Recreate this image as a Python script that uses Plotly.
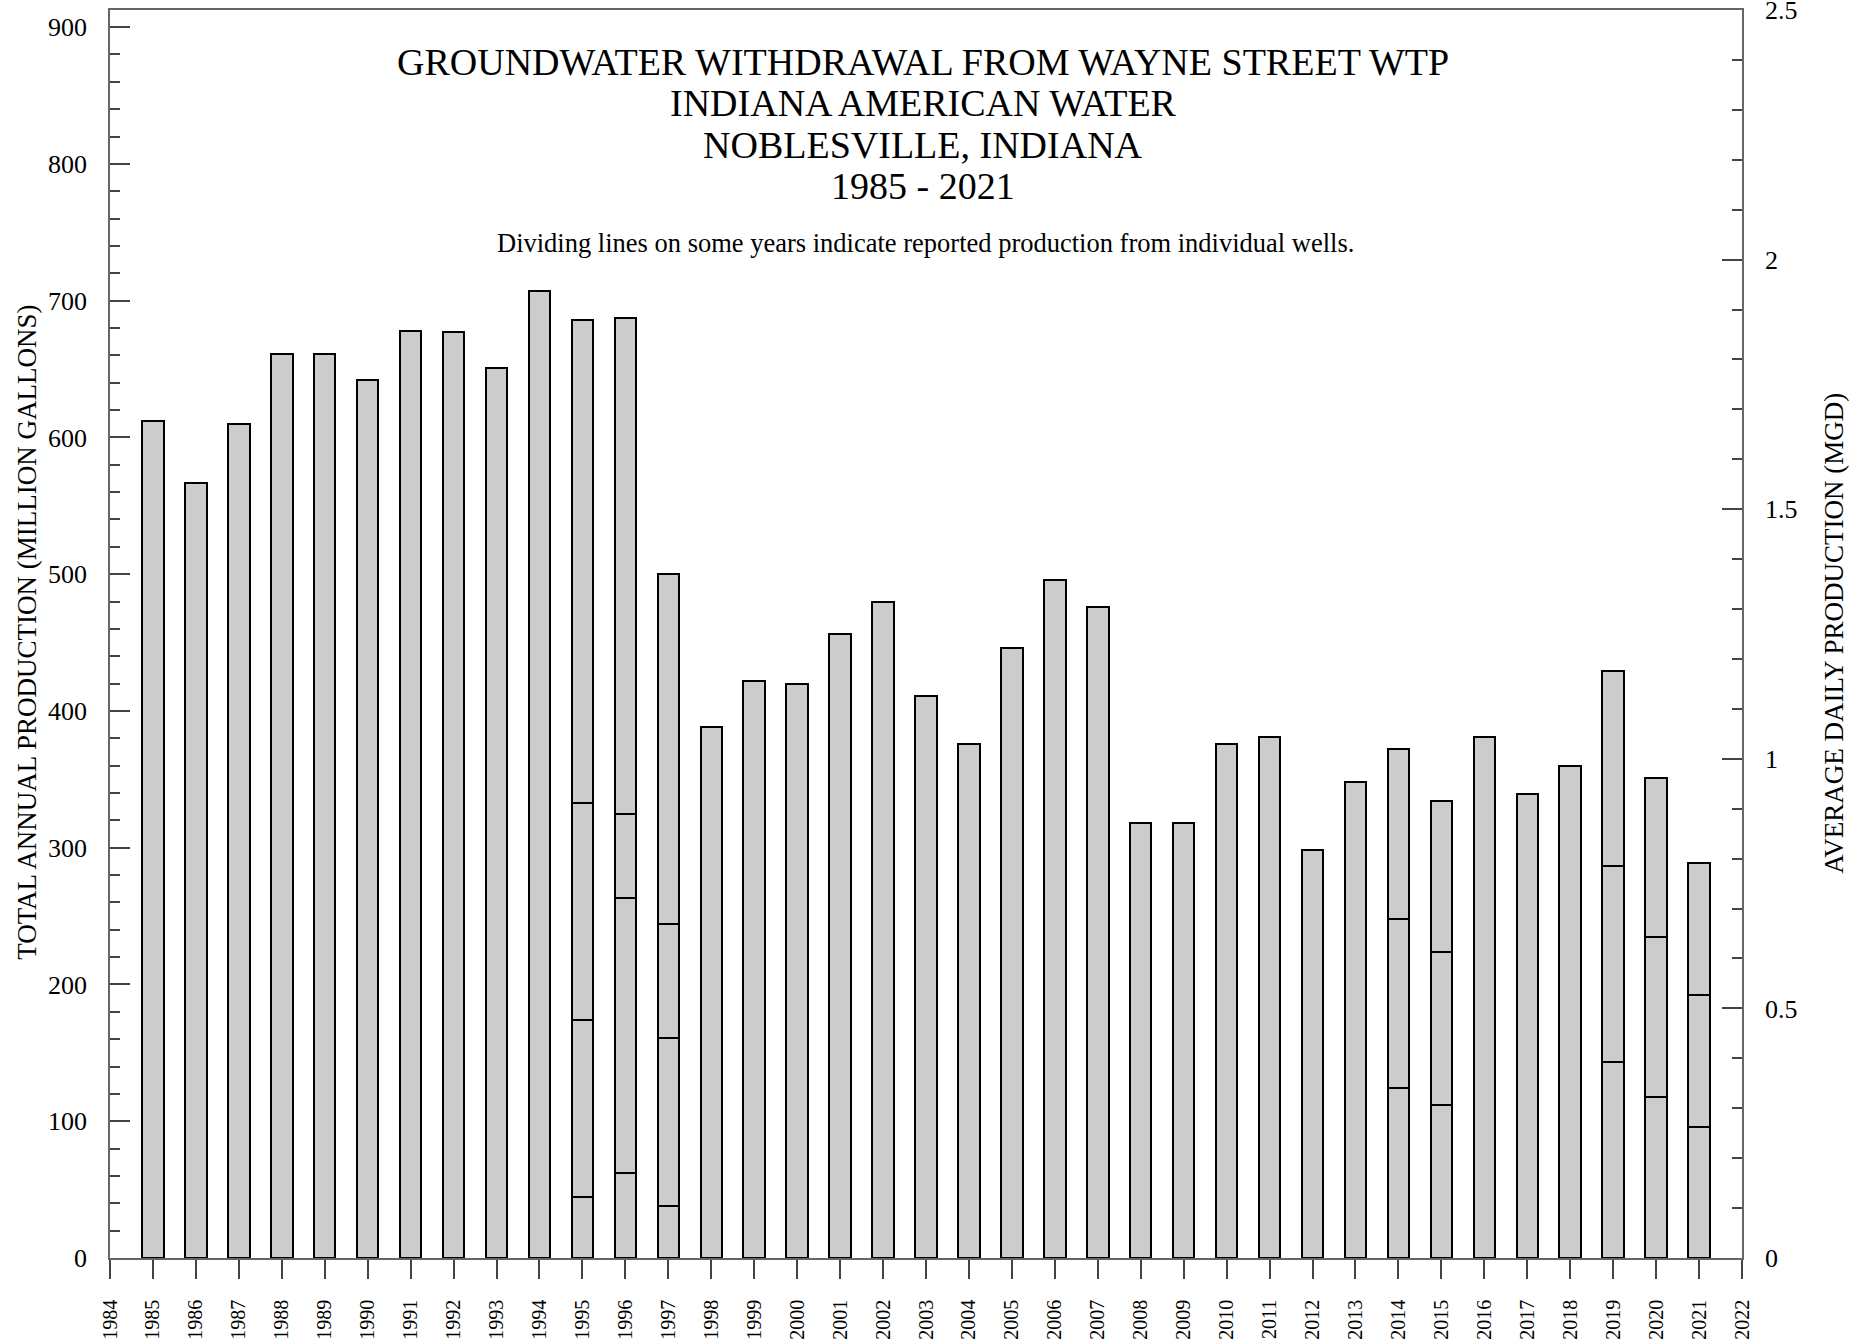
import plotly.graph_objects as go

# ---------------- data ----------------
years = list(range(1985, 2022))
total_production = [612, 567, 610, 661, 661, 642, 678, 677, 651, 707,
                    686, 687, 500, 388, 422, 420, 456, 480, 411, 376,
                    446, 496, 476, 318, 318, 376, 381, 298, 348, 372,
                    334.5, 381, 339.5, 360, 429, 351, 288.5]
# cumulative levels of the dividing lines (individual wells), bottom to top
split_years = [1995, 1996, 1997, 2014, 2015, 2019, 2020, 2021]
split_levels = [[44.7, 174.3, 332.5],
                [62.1, 263.2, 324.8],
                [38.3, 161.0, 243.9],
                [124.0, 247.8],
                [112.0, 223.4],
                [143.3, 286.5],
                [117.5, 234.6],
                [96.0, 192.5]]
x_tick_years = list(range(1984, 2023))

title_lines = ["GROUNDWATER WITHDRAWAL FROM WAYNE STREET WTP",
               "INDIANA AMERICAN WATER",
               "NOBLESVILLE, INDIANA",
               "1985 - 2021"]
subtitle = "Dividing lines on some years indicate reported production from individual wells."
y_title = "TOTAL ANNUAL PRODUCTION (MILLION GALLONS)"
y2_title = "AVERAGE DAILY PRODUCTION (MGD)"

# ---------------- build stacked segments ----------------
segments = []
for yr, tot in zip(years, total_production):
    lv = split_levels[split_years.index(yr)] if yr in split_years else []
    bounds = [0] + lv + [tot]
    segments.append([bounds[i + 1] - bounds[i] for i in range(len(bounds) - 1)])
n_layers = max(len(s) for s in segments)

FONT = "Liberation Serif"
fig = go.Figure()
for k in range(n_layers):
    fig.add_trace(go.Bar(
        x=years,
        y=[s[k] if k < len(s) else None for s in segments],
        width=0.5,
        marker=dict(color="#cccccc", line=dict(color="black", width=2)),
        showlegend=False,
        hoverinfo="skip",
    ))
# invisible trace to activate the right axis
fig.add_trace(go.Scatter(x=[None], y=[None], yaxis="y2", showlegend=False))

axis_line = "#666666"
tick_col = "#444444"
EPS = 1e-6

fig.update_layout(
    width=1860, height=1344,
    margin=dict(l=110, r=118, t=10, b=86),
    paper_bgcolor="white", plot_bgcolor="white",
    barmode="stack", bargap=0,
    font=dict(family=FONT, color="black"),
    xaxis=dict(
        range=[1984, 2022], tickmode="array", tickvals=x_tick_years,
        ticktext=[str(v) for v in x_tick_years], tickangle=-90,
        ticks="outside", ticklen=19, tickwidth=1.5, tickcolor=tick_col,
        showline=True, linecolor=axis_line, linewidth=1.5, mirror=True,
        showgrid=False, zeroline=False, automargin=False,
        tickfont=dict(family=FONT, size=20, color="black"),
        ticklabelstandoff=13,
    ),
    yaxis=dict(
        range=[0, 912.5 * (1 + EPS)], tickmode="linear", tick0=0, dtick=100,
        ticks="inside", ticklen=20, tickwidth=1.5, tickcolor=tick_col,
        minor=dict(ticks="inside", ticklen=10, tick0=0, dtick=20,
                   tickwidth=1.5, tickcolor=tick_col, showgrid=False),
        showline=True, linecolor=axis_line, linewidth=1.5,
        showgrid=False, zeroline=False, automargin=False,
        tickfont=dict(family=FONT, size=26, color="black"),
        ticklabelstandoff=16, ticklabeloverflow="allow",
    ),
    yaxis2=dict(
        overlaying="y", side="right",
        range=[0, 2.5 * (1 + EPS)], tickmode="linear", tick0=0, dtick=0.5,
        ticks="inside", ticklen=20, tickwidth=1.5, tickcolor=tick_col,
        minor=dict(ticks="inside", ticklen=10, tick0=0, dtick=0.1,
                   tickwidth=1.5, tickcolor=tick_col, showgrid=False),
        showline=True, linecolor=axis_line, linewidth=1.5,
        showgrid=False, zeroline=False, automargin=False,
        tickfont=dict(family=FONT, size=26, color="black"),
        ticklabelstandoff=16, ticklabeloverflow="allow",
    ),
)

# ---------------- text annotations ----------------
# positions in page pixels (plot area spans y 10..1258.3, x 110..1742)
plot_top, plot_bottom = 10, 1258.3
def py(pix):
    return (plot_bottom - pix) / (plot_bottom - plot_top)
def px(pix):
    return (pix - 110) / 1632

ann = []
title_centers = [62, 103.5, 145, 186]
for line, yc in zip(title_lines, title_centers):
    ann.append(dict(text=line, x=px(923), y=py(yc), xref="paper", yref="paper",
                    xanchor="center", yanchor="middle", showarrow=False,
                    font=dict(family=FONT, size=38, color="black")))
ann.append(dict(text=subtitle, x=px(925), y=py(243), xref="paper", yref="paper",
                xanchor="center", yanchor="middle", showarrow=False,
                font=dict(family=FONT, size=26.5, color="black")))
ann.append(dict(text=y_title, x=px(27), y=py(633), xref="paper", yref="paper",
                xanchor="center", yanchor="middle", textangle=-90, showarrow=False,
                font=dict(family=FONT, size=27, color="black")))
ann.append(dict(text=y2_title, x=px(1834), y=py(634), xref="paper", yref="paper",
                xanchor="center", yanchor="middle", textangle=-90, showarrow=False,
                font=dict(family=FONT, size=27, color="black")))
fig.update_layout(annotations=ann)

# remove the default 8px page margin so the figure fills the window exactly
fig.write_html("out.html", config={"displayModeBar": False},
               post_script="document.body.style.margin='0';")
